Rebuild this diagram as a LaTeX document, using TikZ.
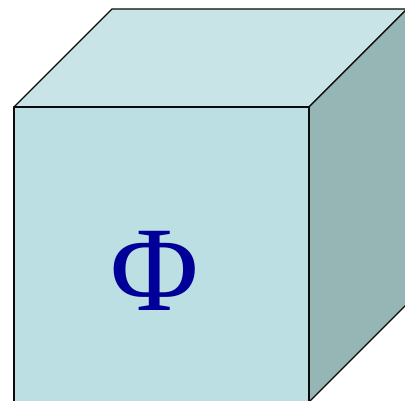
\documentclass[tikz,border=0pt]{standalone}
\usepackage{amsmath,amssymb}
\usepackage{fontspec}
\usepackage{tikz}
\usetikzlibrary{calc}
\newfontfamily\phifont{Liberation Serif}
\definecolor{cTop}{HTML}{C8E4E6}
\definecolor{cFront}{HTML}{BBDFE2}
\definecolor{cSide}{HTML}{96B5B5}
\definecolor{cPhi}{HTML}{000099}
\definecolor{cInk}{HTML}{0B0B0B}

\begin{document}
\begin{tikzpicture}[
  x=1pt, y=-1pt,
  face/.style={draw=cInk, line width=1.3pt, line join=round},
  symb/.style={text=cPhi, inner sep=0pt, font=\phifont\fontsize{121}{121}\selectfont},
]
\useasboundingbox (0,0) rectangle (405,401);
\clip (0,0) rectangle (405,401);
% corners of the cube: front face and the depth offset
\def\side{295}
\coordinate (fa) at (14,107);
\coordinate (fb) at ($(fa)+(\side,0)$);
\coordinate (fc) at ($(fa)+(\side,\side)$);
\coordinate (fd) at ($(fa)+(0,\side)$);
\coordinate (ba) at ($(fa)+(98,-98)$);
\coordinate (bb) at ($(fb)+(98,-98)$);
\coordinate (bc) at ($(fc)+(98,-98)$);

% faces
\filldraw[face, fill=cTop] (fa)--(ba)--(bb)--(fb)--cycle;
\filldraw[face, fill=cSide] (fb)--(bb)--(bc)--(fc)--cycle;
\filldraw[face, fill=cFront] (fa)--(fb)--(fc)--(fd)--cycle;

\node[symb] (phi) at (154.5,271) {Φ};
\end{tikzpicture}
\end{document}
